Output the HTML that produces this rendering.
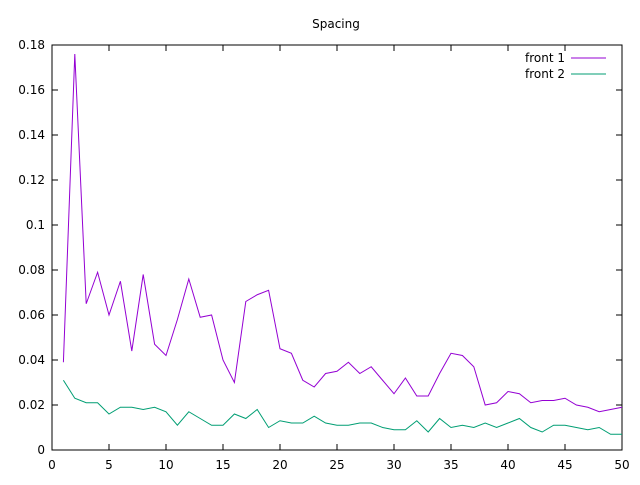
<!DOCTYPE html>
<html><head><meta charset="utf-8"><style>
body{margin:0;background:#fff}
svg{font-family:"DejaVu Sans","Liberation Sans",sans-serif;font-size:12px}
</style></head><body>
<svg id="c" width="640" height="480"></svg>
<script>
const xTicks=[0,5,10,15,20,25,30,35,40,45,50];
const yTicks=[0,0.02,0.04,0.06,0.08,0.1,0.12,0.14,0.16,0.18];
const yTickLabels=["0","0.02","0.04","0.06","0.08","0.1","0.12","0.14","0.16","0.18"];
const front1=[0.039,0.176,0.065,0.079,0.060,0.075,0.044,0.078,0.047,0.042,0.058,0.076,0.059,0.060,0.040,0.030,0.066,0.069,0.071,0.045,0.043,0.031,0.028,0.034,0.035,0.039,0.034,0.037,0.031,0.025,0.032,0.024,0.024,0.034,0.043,0.042,0.037,0.020,0.021,0.026,0.025,0.021,0.022,0.022,0.023,0.020,0.019,0.017,0.018,0.019];
const front2=[0.031,0.023,0.021,0.021,0.016,0.019,0.019,0.018,0.019,0.017,0.011,0.017,0.014,0.011,0.011,0.016,0.014,0.018,0.010,0.013,0.012,0.012,0.015,0.012,0.011,0.011,0.012,0.012,0.010,0.009,0.009,0.013,0.008,0.014,0.010,0.011,0.010,0.012,0.010,0.012,0.014,0.010,0.008,0.011,0.011,0.010,0.009,0.010,0.007,0.007];
const L=52,R=622,T=45,B=450;
const xs=v=>L+(R-L)*v/50, ys=v=>B-(B-T)*v/0.18;
const svg=document.getElementById('c');const NS='http://www.w3.org/2000/svg';
function mk(tag,a,p){const e=document.createElementNS(NS,tag);for(const k in a)e.setAttribute(k,a[k]);(p||svg).appendChild(e);return e;}
let t=mk('text',{x:336,y:28,'text-anchor':'middle'});t.textContent='Spacing';


xTicks.forEach(v=>{const x=xs(v);
 let l=mk('path',{d:`M${x},${B}v-6M${x},${T}v6`,stroke:'#000'});
 
 
 let tx=mk('text',{x:x,y:469,'text-anchor':'middle'});tx.textContent=v;
 
 });
yTicks.forEach((v,i)=>{const y=ys(v);
 let l=mk('path',{d:`M${L},${y}h6M${R},${y}h-6`,stroke:'#000'});
 
 
 let tx=mk('text',{x:45,y:y+4,'text-anchor':'end'});tx.textContent=yTickLabels[i];
 
 });
let fr=mk('rect',{x:L,y:T,width:R-L,height:B-T,fill:'none',stroke:'#000'});


function series(d,col,name){
 const p=mk('polyline',{points:d.map((v,i)=>xs(i+1)+','+ys(v)).join(' '),fill:'none',stroke:col,'stroke-width':1});
 
 }
series(front1,'#9400d3','front-1-line');
series(front2,'#009e73','front-2-line');
[['front 1','#9400d3',62],['front 2','#009e73',78]].forEach(([n,c,y])=>{
 const g=mk('g',{});
 
 
 const tx=mk('text',{x:565,y:y,'text-anchor':'end'},g);tx.textContent=n;
 mk('line',{x1:571,x2:606,y1:y-4,y2:y-4,stroke:c},g);});
</script>
</body></html>
